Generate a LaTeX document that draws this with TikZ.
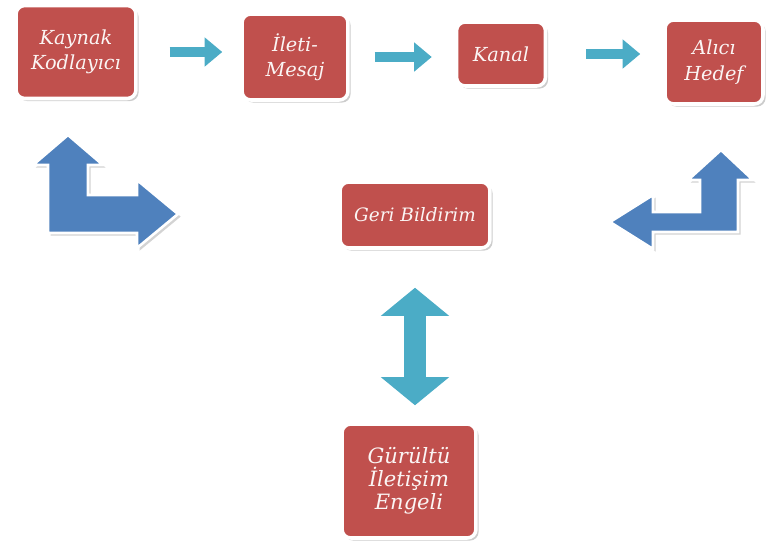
\documentclass[tikz,border=0pt]{standalone}
\usepackage{fontspec}
\setmainfont{DejaVu Serif}
\usetikzlibrary{arrows.meta,shadows}
\definecolor{boxred}{RGB}{192,80,77}
\definecolor{flowteal}{RGB}{75,172,198}
\definecolor{bentblue}{RGB}{79,129,189}
\tikzstyle{cbox}=[rectangle,rounded corners=5pt,draw=white,line width=2pt,fill=boxred,
                  drop shadow={opacity=0.4,shadow xshift=1.5pt,shadow yshift=-1.5pt},
                  text=white!94!boxred,align=center,font=\itshape\fontsize{11}{14.5}\selectfont]
\tikzstyle{flow}=[-{Triangle[length=10pt,width=16pt]},line width=6pt,draw=flowteal]
\tikzstyle{dflow}=[{Triangle[length=16pt,width=38pt]}-{Triangle[length=16pt,width=38pt]},
                  line width=12.5pt,draw=flowteal]
\tikzstyle{bent}=[fill=bentblue,draw=white,line width=1.5pt,
                  drop shadow={opacity=0.35,shadow xshift=1.5pt,shadow yshift=-1.5pt}]

\begin{document}
\begin{tikzpicture}[x=0.02cm,y=-0.02cm]
      \useasboundingbox (0,0) rectangle (772,552);
      \node[cbox,minimum width=2.4cm,minimum height=1.86cm] (kaynak) at (76,52) {Kaynak\\Kodlayıcı};
      \node[cbox,minimum width=2.12cm,minimum height=1.72cm] (ileti) at (295,57) {İleti-\\Mesaj};
      \node[cbox,minimum width=1.78cm,minimum height=1.28cm] (kanal) at (501,54) {Kanal};
      \node[cbox,minimum width=1.96cm,minimum height=1.68cm] (alici) at (714,62) {Alıcı\\Hedef};
      \node[cbox,minimum width=3cm,minimum height=1.32cm,
            font=\itshape\fontsize{10.5}{14}\selectfont] (geri) at (415,215) {Geri Bildirim};
      \node[cbox,minimum width=2.68cm,minimum height=2.28cm,
            font=\itshape\fontsize{12}{13}\selectfont] (gurultu) at (409,481) {Gürültü\\İletişim\\Engeli};
      \draw[flow,shorten <=0.64cm,shorten >=0.36cm] (kaynak.east) -- (kaynak.east -| ileti.west);
      \draw[flow,shorten <=0.5cm,shorten >=0.46cm] (ileti.east) -- (ileti.east -| kanal.west);
      \draw[flow,shorten <=0.78cm,shorten >=0.46cm] (kanal.east) -- (kanal.east -| alici.west);
      \draw[dflow,shorten <=0.76cm,shorten >=0.34cm] (geri.south) -- (geri.south |- gurultu.north);
      % feedback arrows
      \filldraw[bent] (48,233) -- (48,165) -- (33,165) -- (68,135) -- (103,165) -- (88,165)
        -- (88,195) -- (137,195) -- (137,180) -- (178,214) -- (137,248) -- (137,233) -- cycle;
      \filldraw[bent] (738,232) -- (738,180) -- (753,180) -- (721,150) -- (688,180) -- (700,180)
        -- (700,212) -- (653,212) -- (653,195) -- (610,222) -- (653,249) -- (653,232) -- cycle;
    \end{tikzpicture}
\end{document}
